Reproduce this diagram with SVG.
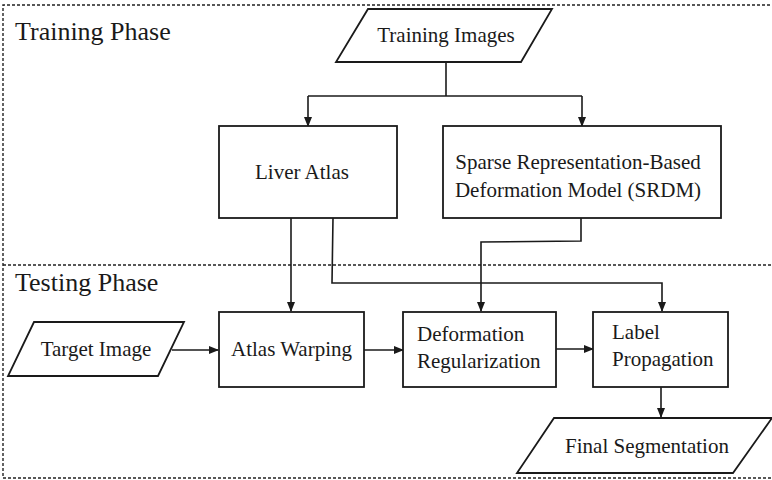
<svg xmlns="http://www.w3.org/2000/svg" width="772" height="480" viewBox="0 0 772 480">
<defs>
<marker id="ah" markerWidth="10" markerHeight="8" refX="9" refY="4" orient="auto" markerUnits="userSpaceOnUse">
<path d="M0,0 L10,4 L0,8 Z" fill="#1a1a1a"/>
</marker>
<style>
.shape{fill:#fff;stroke:#1a1a1a;stroke-width:1.8}
.conn{fill:none;stroke:#1a1a1a;stroke-width:1.6}
.dash{fill:none;stroke:#222;stroke-width:1.4;stroke-dasharray:3 2}
text{font-family:"Liberation Serif","Times New Roman",serif;fill:#1a1a1a;font-size:21px}
.phase{font-size:26px}
.c{text-anchor:middle}
</style>
</defs>
<rect width="772" height="480" fill="#fff"/>
<g id="frames">
<path class="dash" d="M775,5 H3 V478 H775"/>
<path class="dash" d="M3,265 H775"/>
<text class="phase" x="15" y="40">Training Phase</text>
<text class="phase" x="15" y="291">Testing Phase</text>
</g>
<g id="connectors">
<path class="conn" d="M446,62 V96"/>
<path class="conn" d="M308,96 H582"/>
<path class="conn" d="M308,96 V126" marker-end="url(#ah)"/>
<path class="conn" d="M582,96 V126" marker-end="url(#ah)"/>
<path class="conn" d="M291,218 V311" marker-end="url(#ah)"/>
<path class="conn" d="M333,218 L332,283 H662 V311" marker-end="url(#ah)"/>
<path class="conn" d="M581,218 V241 L481,242 V311" marker-end="url(#ah)"/>
<path class="conn" d="M172,350 H218" marker-end="url(#ah)"/>
<path class="conn" d="M364,350 H403" marker-end="url(#ah)"/>
<path class="conn" d="M556,349 H593" marker-end="url(#ah)"/>
<path class="conn" d="M661,387 V417" marker-end="url(#ah)"/>
</g>
<g id="training-images">
<polygon class="shape" points="368,9 552,9 521,62 336,62"/>
<text class="c" x="446" y="42">Training Images</text>
</g>
<g id="liver-atlas">
<rect class="shape" x="219" y="126" width="178" height="92"/>
<text class="c" x="302" y="179">Liver Atlas</text>
</g>
<g id="srdm">
<rect class="shape" x="443" y="126" width="278" height="92"/>
<text class="c" x="578" y="169">Sparse Representation-Based</text>
<text class="c" x="578" y="197">Deformation Model (SRDM)</text>
</g>
<g id="target-image">
<polygon class="shape" points="34,322 184,322 158,376 8,376"/>
<text class="c" x="96" y="356">Target Image</text>
</g>
<g id="atlas-warping">
<rect class="shape" x="219" y="312" width="145" height="75"/>
<text class="c" x="291.5" y="356">Atlas Warping</text>
</g>
<g id="deformation-regularization">
<rect class="shape" x="403" y="312" width="153" height="75"/>
<text x="417" y="341">Deformation</text>
<text x="417" y="368">Regularization</text>
</g>
<g id="label-propagation">
<rect class="shape" x="593" y="312" width="135" height="75"/>
<text x="612" y="339">Label</text>
<text x="612" y="366">Propagation</text>
</g>
<g id="final-segmentation">
<polygon class="shape" points="554,418 772,418 733,473 517,473"/>
<text class="c" x="647" y="453">Final Segmentation</text>
</g>
</svg>
